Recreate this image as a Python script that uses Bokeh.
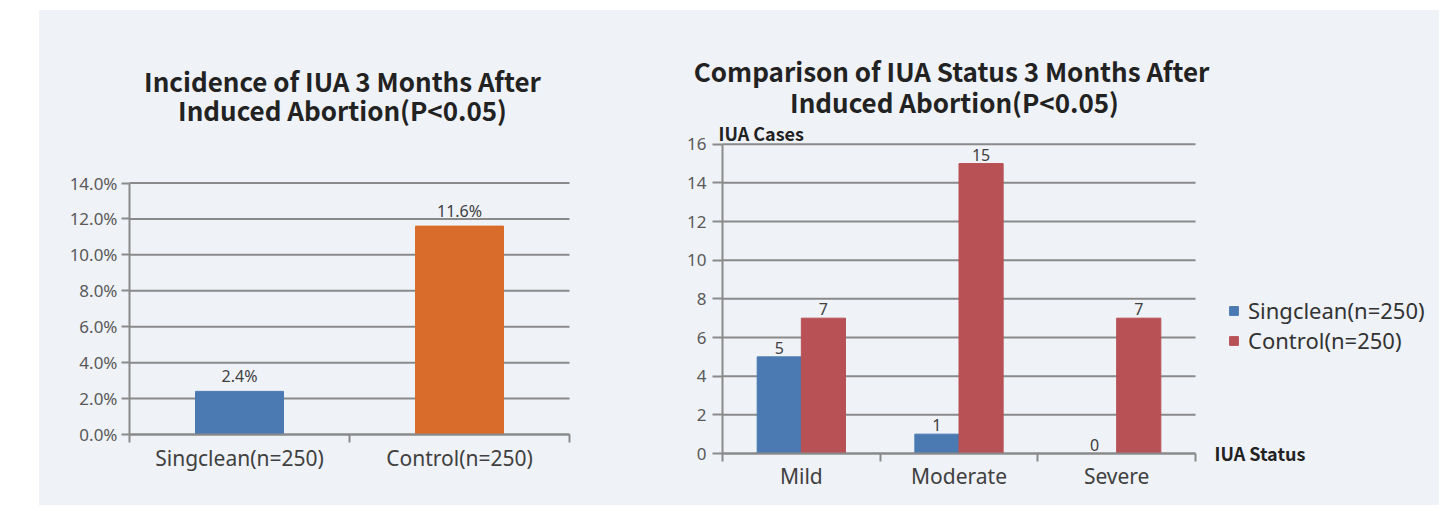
from bokeh.plotting import figure
from bokeh.models import (ColumnDataSource, FixedTicker, Label, Legend, LegendItem,
                          Range1d, Spacer, PrintfTickFormatter)
from bokeh.layouts import row, column
from bokeh.embed import file_html
from bokeh.resources import INLINE
from bokeh.core.properties import value
from bokeh.transform import dodge

# ---------------- data ----------------
groups = ["Singclean(n=250)", "Control(n=250)"]
incidence = [2.4, 11.6]
incidence_labels = ["2.4%", "11.6%"]
incidence_ticks = [0, 2, 4, 6, 8, 10, 12, 14]

status = ["Mild", "Moderate", "Severe"]
singclean_cases = [5, 1, 0]
control_cases = [7, 15, 7]
cases_ticks = [0, 2, 4, 6, 8, 10, 12, 14, 16]

title_left = ["Incidence of IUA 3 Months After", "Induced Abortion(P<0.05)"]
title_right = ["Comparison of IUA  Status 3 Months After", "Induced Abortion(P<0.05)"]
y_name_right = "IUA Cases"
x_name_right = "IUA Status"

# ---------------- style ----------------
FONT = "Noto Sans"
TFONT = "Noto Sans CJK SC"
BG = "#eff2f7"
GRID = "#8a8a8a"
TICK_TXT = "#595959"
LBL_TXT = "#404040"
TITLE_TXT = "#222222"
BLUE = "#4a7ab1"
ORANGE = "#d96b2b"
RED = "#b85155"

CANVAS_TOP, CANVAS_BOTTOM = 11, 506


class Mapper:
    """pixel layout of a plot: canvas box and the pixel box of the data area."""
    def __init__(self, canvas, frame, data):
        self.cl, self.cr, self.ct, self.cb = canvas
        self.fl, self.fr, self.ft, self.fb = frame
        self.x0, self.x1, self.y0, self.y1 = data
        self.sx = (self.fr - self.fl) / (self.x1 - self.x0)
        self.sy = (self.fb - self.ft) / (self.y1 - self.y0)

    def X(self, px):
        return self.x0 + (px - self.fl) / self.sx

    def Y(self, py):
        return self.y0 + (self.fb - py) / self.sy

    def ranges(self):
        return (Range1d(self.X(self.cl), self.X(self.cr)),
                Range1d(self.Y(self.cb), self.Y(self.ct)))

    def size(self):
        return self.cr - self.cl, self.cb - self.ct


def base_fig(m):
    xr, yr = m.ranges()
    w, h = m.size()
    p = figure(frame_width=w, frame_height=h, min_border=0, x_range=xr, y_range=yr,
               output_backend="svg", toolbar_location=None,
               background_fill_color=BG, border_fill_color=BG, outline_line_color=None)
    p.grid.visible = False
    return p


def style_axes(p, nx, yticks, ytick_font, xlab_font, ytick_out, ystandoff, xstandoff):
    centers = [i + 0.5 for i in range(nx)]
    for ax in (p.xaxis[0], p.yaxis[0]):
        ax.fixed_location = 0
        ax.axis_line_color = GRID
        ax.axis_line_width = 2
        ax.major_tick_line_color = GRID
        ax.major_tick_line_width = 2
        ax.minor_tick_line_color = GRID
        ax.minor_tick_line_width = 2
        ax.major_tick_in = 0
        ax.minor_tick_in = 0
        ax.major_label_text_font = FONT
    p.yaxis.bounds = (yticks[0], yticks[-1])
    p.yaxis.ticker = FixedTicker(ticks=yticks)
    p.yaxis.minor_tick_out = 0
    p.yaxis.major_tick_out = ytick_out
    p.yaxis.major_label_text_font_size = ytick_font
    p.yaxis.major_label_text_color = TICK_TXT
    p.yaxis.major_label_standoff = ystandoff
    p.xaxis.bounds = (0, nx)
    p.xaxis.ticker = FixedTicker(ticks=centers, minor_ticks=list(range(nx + 1)))
    p.xaxis.major_tick_out = 0
    p.xaxis.minor_tick_out = 8
    p.xaxis.major_label_text_font_size = xlab_font
    p.xaxis.major_label_text_color = LBL_TXT
    p.xaxis.major_label_standoff = xstandoff
    # horizontal grid lines, spanning the category area only
    p.segment(x0=[0] * len(yticks), x1=[nx] * len(yticks), y0=yticks, y1=yticks,
              line_color=GRID, line_width=2)
    return centers


def add_text(p, x, y, text, size, bold=False, align="center", font=TFONT, color=TITLE_TXT):
    p.add_layout(Label(x=x, y=y, text=text, text_align=align, text_baseline="middle",
                       text_font=font, text_font_size=size,
                       text_font_style="bold" if bold else "normal", text_color=color))


# ---------------- left chart ----------------
n1 = len(groups)
m1 = Mapper(canvas=(40, 640, CANVAS_TOP, CANVAS_BOTTOM), frame=(130, 570, 183.5, 435),
            data=(0, n1, incidence_ticks[0], incidence_ticks[-1]))
p1 = base_fig(m1)
c1 = style_axes(p1, n1, incidence_ticks, "17px", "21px", 8, 4, 1)
p1.yaxis.formatter = PrintfTickFormatter(format="%.1f%%")
p1.xaxis.major_label_overrides = {c: g for c, g in zip(c1, groups)}

src1 = ColumnDataSource(dict(x=c1, top=incidence, lab=incidence_labels, color=[BLUE, ORANGE]))
p1.vbar(x="x", top="top", width=0.4, color="color", source=src1)
p1.text(x="x", y="top", text="lab", source=src1, text_align="center", text_baseline="bottom",
        y_offset=-4, text_font=value(FONT), text_font_size="16px", text_color=LBL_TXT)

for txt, py in zip(title_left, (81, 110)):
    add_text(p1, m1.X(343), m1.Y(py), txt, "26px", bold=True)

# ---------------- right chart ----------------
n2 = len(status)
m2 = Mapper(canvas=(640, 1440, CANVAS_TOP, CANVAS_BOTTOM), frame=(723, 1196, 144.7, 454),
            data=(0, n2, cases_ticks[0], cases_ticks[-1]))
p2 = base_fig(m2)
c2 = style_axes(p2, n2, cases_ticks, "17px", "21px", 10, 6, 0)
p2.xaxis.major_label_overrides = {c: s for c, s in zip(c2, status)}

src2 = ColumnDataSource(dict(x=c2, s=singclean_cases, c=control_cases,
                             sl=[str(v) for v in singclean_cases],
                             cl=[str(v) for v in control_cases]))
r_s = p2.vbar(x=dodge("x", -0.14), top="s", width=0.28, color=BLUE, source=src2)
r_c = p2.vbar(x=dodge("x", 0.14), top="c", width=0.28, color=RED, source=src2)
for col, lab, dx in (("s", "sl", -0.14), ("c", "cl", 0.14)):
    p2.text(x=dodge("x", dx), y=col, text=lab, source=src2, text_align="center",
            text_baseline="bottom", y_offset=-3, text_font=value(FONT), text_font_size="16px",
            text_color=LBL_TXT)

for txt, py in zip(title_right, (71, 102)):
    add_text(p2, m2.X(955), m2.Y(py), txt, "26px", bold=True)
add_text(p2, m2.X(719), m2.Y(133), y_name_right, "18px", bold=True, align="left")
add_text(p2, m2.X(1215), m2.Y(453.5), x_name_right, "18px", bold=True, align="left")

legend = Legend(items=[LegendItem(label=groups[0], renderers=[r_s]),
                       LegendItem(label=groups[1], renderers=[r_c])],
                location=(1229 - 640, CANVAS_BOTTOM - 356), glyph_width=11, glyph_height=11,
                label_height=20, spacing=-8, padding=0, margin=0, label_standoff=9,
                label_text_font=FONT, label_text_font_size="22px", label_text_color="#333333",
                border_line_color=None, background_fill_alpha=0)
p2.add_layout(legend)

charts = row(p1, p2, styles={"background-color": BG})
layout = column(Spacer(height=10), row(Spacer(width=39), charts))

open("out.html", "w").write(file_html(layout, INLINE))
